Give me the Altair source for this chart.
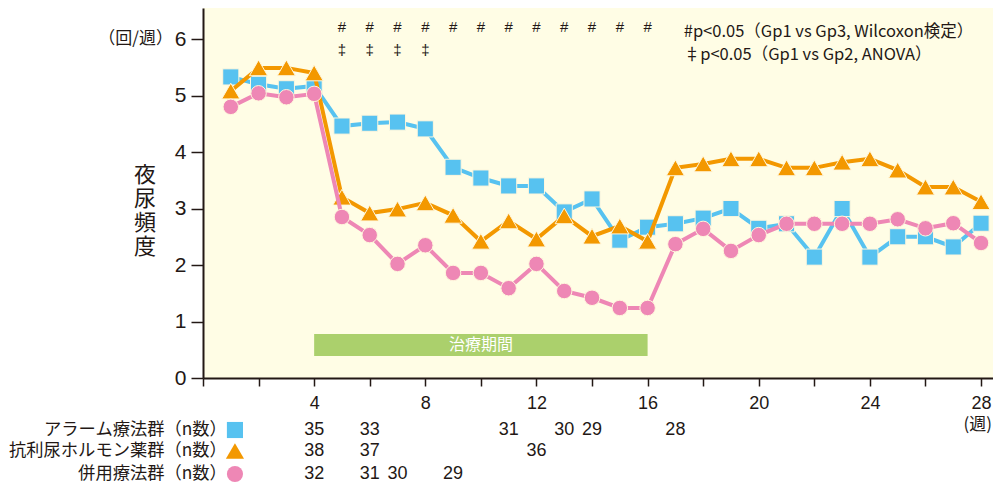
import altair as alt
import pandas as pd

weeks = list(range(1, 29))
alarm = [5.33, 5.2, 5.12, 5.17, 4.46, 4.51, 4.53, 4.41, 3.73, 3.54, 3.4, 3.4, 2.94, 3.17,
         2.44, 2.67, 2.73, 2.83, 3.0, 2.65, 2.73, 2.14, 3.0, 2.14, 2.5, 2.5, 2.32, 2.74]
adh = [5.08, 5.49, 5.49, 5.4, 3.2, 2.92, 2.99, 3.1, 2.88, 2.42, 2.78, 2.46, 2.87, 2.51,
       2.69, 2.42, 3.72, 3.79, 3.88, 3.88, 3.72, 3.72, 3.82, 3.88, 3.68, 3.38, 3.38, 3.12]
combo = [4.8, 5.04, 4.97, 5.03, 2.85, 2.53, 2.02, 2.35, 1.86, 1.86, 1.59, 2.02, 1.54, 1.42,
         1.24, 1.24, 2.37, 2.64, 2.25, 2.53, 2.73, 2.73, 2.73, 2.73, 2.81, 2.65, 2.74, 2.39]

group_names = ["アラーム療法群（n数）", "抗利尿ホルモン薬群（n数）", "併用療法群（n数）"]
colors = ["#57c2f0", "#f39800", "#ee87b5"]
shapes = ["square", "triangle-up", "circle"]
sizes = [260, 330, 240]
series = [alarm, adh, combo]

n_weeks = [[4, 6, 11, 13, 14, 17], [4, 6, 12], [4, 6, 7, 9]]
n_vals = [[35, 33, 31, 30, 29, 28], [38, 37, 36], [32, 31, 30, 29]]

hash_weeks = list(range(5, 17))
dagger_weeks = [5, 6, 7, 8]

note1 = "#p<0.05（Gp1 vs Gp3, Wilcoxon検定）"
note2 = "‡p<0.05（Gp1 vs Gp2, ANOVA）"
band_label = "治療期間"
band = {"start": 4, "end": 16, "lo": 0.39, "hi": 0.78}
y_unit = "（回/週）"
x_unit = "(週)"
y_title = ["夜", "尿", "頻", "度"]

INK = "#231815"
JP = "Noto Sans CJK JP"
NUM = "Liberation Sans"

W, H = 790, 370
xs = alt.Scale(domain=[0, 28.43], nice=False)
ys = alt.Scale(domain=[0, 6.55], nice=False)

x_axis = alt.Axis(values=list(range(0, 29)), tickSize=8, tickColor=INK, tickWidth=1.5,
                  domainColor=INK, domainWidth=2, labelFontSize=18, labelFont=NUM,
                  labelColor=INK, labelPadding=8, grid=False, title=None,
                  labelExpr="datum.value % 4 == 0 && datum.value > 0 ? datum.label : ''")
y_axis = alt.Axis(values=list(range(0, 7)), format="d", tickSize=12, tickColor=INK, tickWidth=1.5,
                  domainColor=INK, domainWidth=2, labelFontSize=21, labelFont=NUM,
                  labelColor=INK, labelPadding=5, grid=False, title=None)

layers = []

band_df = pd.DataFrame([band])
layers.append(alt.Chart(band_df).mark_rect(color="#abd06c").encode(
    x=alt.X("start:Q", scale=xs, axis=x_axis), x2="end:Q",
    y=alt.Y("lo:Q", scale=ys, axis=y_axis), y2="hi:Q"))
band_txt = pd.DataFrame({"x": [(band["start"] + band["end"]) / 2],
                         "y": [(band["lo"] + band["hi"]) / 2], "t": [band_label]})
layers.append(alt.Chart(band_txt).mark_text(color="white", font=JP, fontSize=16, baseline="middle").encode(
    x=alt.X("x:Q", scale=xs), y=alt.Y("y:Q", scale=ys), text="t:N"))

for name, vals, c, s, sz in zip(group_names, series, colors, shapes, sizes):
    df = pd.DataFrame({"week": weeks, "v": vals})
    base = alt.Chart(df).encode(x=alt.X("week:Q", scale=xs), y=alt.Y("v:Q", scale=ys))
    layers.append(base.mark_line(color=c, strokeWidth=4))
    layers.append(base.mark_point(shape=s, filled=True, color=c, size=sz, opacity=1,
                                  stroke="#fff7dc", strokeWidth=1))

hash_df = pd.DataFrame({"week": hash_weeks, "y": [6.21] * len(hash_weeks), "t": ["#"] * len(hash_weeks)})
layers.append(alt.Chart(hash_df).mark_text(color=INK, fontSize=15, font=NUM).encode(
    x=alt.X("week:Q", scale=xs), y=alt.Y("y:Q", scale=ys), text="t:N"))
dag_df = pd.DataFrame({"week": dagger_weeks, "y": [5.8] * len(dagger_weeks), "t": ["‡"] * len(dagger_weeks)})
layers.append(alt.Chart(dag_df).mark_text(color=INK, fontSize=15, font=NUM).encode(
    x=alt.X("week:Q", scale=xs), y=alt.Y("y:Q", scale=ys), text="t:N"))

notes_df = pd.DataFrame({"x": [17.3, 17.3], "y": [6.12, 5.72], "t": [note1, note2]})
layers.append(alt.Chart(notes_df).mark_text(color=INK, fontSize=16.5, font=JP, align="left",
                                            baseline="middle").encode(
    x=alt.X("x:Q", scale=xs), y=alt.Y("y:Q", scale=ys), text="t:N"))

# y unit label and title
layers.append(alt.Chart(pd.DataFrame({"y": [6], "t": [y_unit]})).mark_text(
    color=INK, fontSize=17, font=JP, align="right", baseline="middle").encode(
    x=alt.value(-30), y=alt.Y("y:Q", scale=ys), text="t:N"))
title_df = pd.DataFrame({"t": y_title, "y": [3.6, 3.175, 2.74, 2.315]})
layers.append(alt.Chart(title_df).mark_text(
    color=INK, fontSize=22, font=JP, align="center", baseline="middle").encode(
    x=alt.value(-58), y=alt.Y("y:Q", scale=ys), text="t:N"))

# x unit
layers.append(alt.Chart(pd.DataFrame({"x": [28], "t": [x_unit]})).mark_text(
    color=INK, fontSize=17, font=JP, baseline="middle", align="right", dx=11).encode(
    x=alt.X("x:Q", scale=xs), y=alt.value(H + 47), text="t:N"))

# n table
row_y = [H + 52, H + 73, H + 96]
for i in range(3):
    ndf = pd.DataFrame({"week": n_weeks[i], "t": [str(v) for v in n_vals[i]]})
    layers.append(alt.Chart(ndf).mark_text(color=INK, fontSize=18, font=NUM, baseline="middle").encode(
        x=alt.X("week:Q", scale=xs), y=alt.value(row_y[i]), text="t:N"))
    ldf = pd.DataFrame({"x": [0.86], "t": [group_names[i]]})
    layers.append(alt.Chart(ldf).mark_text(color=INK, fontSize=17.3, font=JP, align="right", baseline="middle").encode(
        x=alt.X("x:Q", scale=xs), y=alt.value(row_y[i]), text="t:N"))
    sdf = pd.DataFrame({"x": [1.15]})
    layers.append(alt.Chart(sdf).mark_point(shape=shapes[i], filled=True, color=colors[i],
                                            size=[260, 330, 260][i], opacity=1).encode(
        x=alt.X("x:Q", scale=xs), y=alt.value(row_y[i])))

chart = alt.layer(*layers).properties(
    width=W, height=H,
    autosize=alt.AutoSizeParams(type="none"),
    padding={"left": 195, "top": 0, "right": 0, "bottom": 105},
).configure_view(stroke=None, fill="#fffde5")

chart.save("out.html", embed_options={"renderer": "svg", "actions": False})
